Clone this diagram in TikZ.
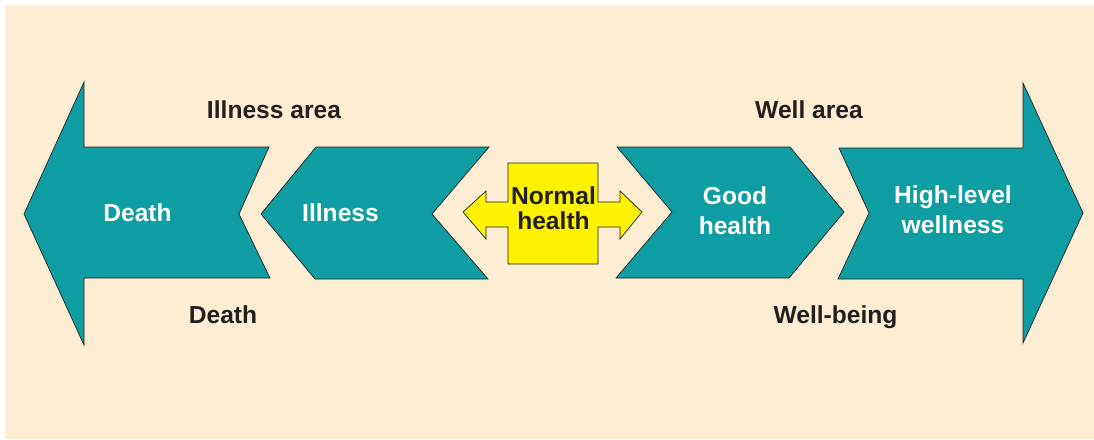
\documentclass[tikz,border=0pt]{standalone}
\usepackage{fontspec}
\setmainfont{Liberation Sans}
\definecolor{paper}{HTML}{FDEDD3}
\definecolor{bandteal}{HTML}{0E9DA3}
\definecolor{normyellow}{HTML}{FFF200}
\definecolor{ink}{HTML}{231F20}

\begin{document}
\begin{tikzpicture}
  [x=1pt,y=-1pt,
   every node/.style={font=\bfseries\fontsize{24.6}{30}\selectfont, align=center, inner sep=0pt},
   band/.style={fill=bandteal, draw=ink, line width=0.7pt, line join=miter},
   normal/.style={fill=normyellow, draw=ink, line width=0.7pt, line join=miter},
   inlbl/.style={text=white},
   outlbl/.style={text=ink, anchor=base}]
  \useasboundingbox (0,0) rectangle (1094,439);
  \fill[paper] (5,5) rectangle (1094,439);

  % illness side
  \draw[band] (24,214) -- (84,82) -- (84,147) -- (269,147) -- (239,214)
    -- (270,278) -- (84,278) -- (84,345) -- cycle;
  \draw[band] (261,214) -- (316,147) -- (489,147) -- (432,214)
    -- (488,279) -- (315,279) -- cycle;

  % normal health
  \draw[normal] (463,212) -- (486,191) -- (486,202) -- (508,202) -- (508,163)
    -- (598,163) -- (598,202) -- (620,202) -- (620,191) -- (642,212)
    -- (620,239) -- (620,227) -- (598,227) -- (598,264) -- (508,264)
    -- (508,227) -- (486,227) -- (486,239) -- cycle;

  % well side
  \draw[band] (617,147) -- (790,147) -- (844,212) -- (789,278)
    -- (616,278) -- (672,212) -- cycle;
  \draw[band] (839,148) -- (1023,148) -- (1023,83) -- (1083,213)
    -- (1023,343) -- (1023,279) -- (838,279) -- (869,213) -- cycle;

  \node[inlbl] (death)   at (137.5,213) {Death};
  \node[inlbl] (illness) at (340.5,213) {Illness};
  \node[text=ink, font=\bfseries\fontsize{24.6}{25}\selectfont] (normal) at (553.5,208) {Normal\\health};
  \node[inlbl] (good)    at (735,211) {Good\\health};
  \node[inlbl] (high)    at (953,210) {High-level\\wellness};

  \node[outlbl] (illarea)   at (274,118) {Illness area};
  \node[outlbl] (wellarea)  at (809,118) {Well area};
  \node[outlbl] (deathlbl)  at (223,323) {Death};
  \node[outlbl] (wellbeing) at (835.5,323) {Well-being};
\end{tikzpicture}
\end{document}
